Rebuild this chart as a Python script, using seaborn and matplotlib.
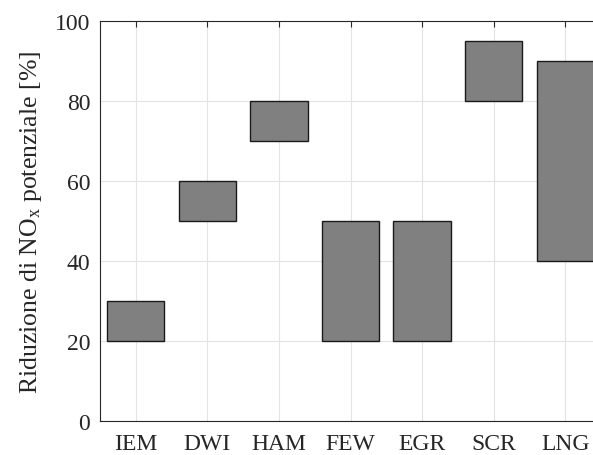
import matplotlib
matplotlib.use("Agg")
import matplotlib.pyplot as plt
import seaborn as sns
import pandas as pd

categories = ["IEM", "DWI", "HAM", "FEW", "EGR", "SCR", "LNG"]
low = [20, 50, 70, 20, 20, 80, 40]
high = [30, 60, 80, 50, 50, 95, 90]
yticks = [0, 20, 40, 60, 80, 100]

sns.set_style("white")
plt.rcParams['font.family'] = ['Liberation Serif', 'DejaVu Serif']
plt.rcParams['mathtext.fontset'] = 'custom'
plt.rcParams['mathtext.rm'] = 'Liberation Serif'
plt.rcParams['mathtext.it'] = 'Liberation Serif'

df = pd.DataFrame({"cat": categories, "span": [h - l for h, l in zip(high, low)]})

fig = plt.figure(figsize=(5.93, 4.56), dpi=100)
ax = fig.add_axes([100 / 593, 34 / 456, 501 / 593, 400 / 456])

sns.barplot(data=df, x="cat", y="span", order=categories, bottom=low,
            color="#808080", saturation=1, width=0.8,
            edgecolor="#1a1a1a", linewidth=1.0, ax=ax, zorder=3)

ax.set_xlim(-0.5, 6.5)
ax.set_ylim(0, 100)
ax.set_yticks(yticks)
ax.set_yticklabels([str(v) for v in yticks])
ax.grid(True, color="#e3e3e3", linewidth=0.8, zorder=0)
ax.set_axisbelow(True)
ax.tick_params(axis="both", direction="in", length=4, width=0.8, color="#262626",
               labelsize=17, labelcolor="#262626", top=True, right=True)
ax.tick_params(axis="y", pad=7)
ax.tick_params(axis="x", pad=9)
for s in ["left", "bottom", "top", "right"]:
    ax.spines[s].set_color("#262626")
    ax.spines[s].set_linewidth(0.8)
    ax.spines[s].set_visible(True)
ax.set_xlabel("")
ax.set_ylabel(r"Riduzione di NO$_{\mathrm{x}}$ potenziale [%]", fontsize=18.5, color="#262626", labelpad=8)

fig.savefig("out.png", dpi=100)
